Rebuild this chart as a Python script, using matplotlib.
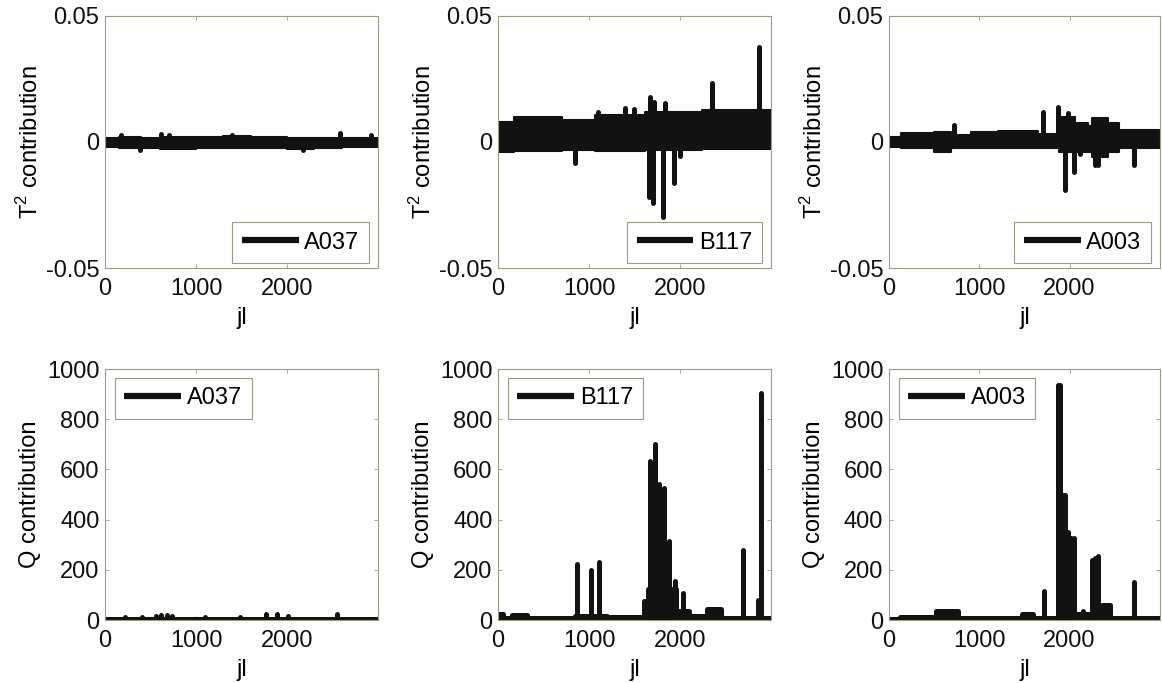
import matplotlib

matplotlib.use("Agg")
import matplotlib.pyplot as plt
import numpy as np

plt.rcParams["font.family"] = ["Liberation Sans", "DejaVu Sans"]
plt.rcParams["mathtext.fontset"] = "custom"
plt.rcParams["mathtext.rm"] = "Liberation Sans"

FONT_SIZE = 17
LINE_COLOR = "#121212"
FRAME_COLOR = "#9c9c84"

# ---- T^2 contribution, A037 (band envelope per segment + spikes) ----
T2_A037_SEG_X = [0, 150, 400, 600, 1000, 1300, 1600, 2000, 2300, 2600, 3000]
T2_A037_HI = [0.0014, 0.0020, 0.0016, 0.0020, 0.0018, 0.0022, 0.0018, 0.0016, 0.0014, 0.0017]
T2_A037_LO = [-0.0020, -0.0024, -0.0022, -0.0026, -0.0022, -0.0024, -0.0022, -0.0026, -0.0022, -0.0020]
T2_A037_SPIKE_X = [180, 380, 620, 700, 1400, 2180, 2580, 2920]
T2_A037_SPIKE_V = [0.0028, -0.0030, 0.0030, 0.0028, 0.0027, -0.0030, 0.0035, 0.0027]

# ---- T^2 contribution, B117 ----
T2_B117_SEG_X = [0, 180, 700, 1060, 1610, 2240, 3000]
T2_B117_HI = [0.0078, 0.0098, 0.0088, 0.0108, 0.0118, 0.0125]
T2_B117_LO = [-0.0038, -0.0036, -0.0033, -0.0036, -0.0030, -0.0026]
T2_B117_SPIKE_X = [849, 1102, 1397, 1493, 1654, 1665, 1702, 1712, 1812, 1830, 1929, 1995, 2352, 2870]
T2_B117_SPIKE_V = [-0.0085, 0.0120, 0.0134, 0.0130, -0.0217, 0.0180, -0.0243, 0.0160,
                   -0.0296, 0.0153, -0.0161, -0.0055, 0.0233, 0.0378]

# ---- T^2 contribution, A003 ----
T2_A003_SEG_X = [0, 130, 500, 690, 910, 1210, 1650, 1880, 2060, 2200, 2250, 2420, 2550, 3000]
T2_A003_HI = [0.0021, 0.0037, 0.0040, 0.0026, 0.0040, 0.0045, 0.0030, 0.0098, 0.0074,
              0.0064, 0.0097, 0.0074, 0.0048]
T2_A003_LO = [-0.0021, -0.0025, -0.0038, -0.0025, -0.0025, -0.0025, -0.0025, -0.0040, -0.0040,
              -0.0040, -0.0060, -0.0040, -0.0025]
T2_A003_SPIKE_X = [725, 1710, 1877, 1951, 1988, 2044, 2110, 2280, 2320, 2713]
T2_A003_SPIKE_V = [0.0067, 0.0120, 0.0138, -0.0190, 0.0116, -0.0118, -0.0046, -0.0090, -0.0090, -0.0090]

# ---- Q contribution, A037 (baseline per segment + spikes) ----
Q_A037_SEG_X = [0, 3000]
Q_A037_BASE = [4]
Q_A037_SPIKE_X = [220, 403, 560, 620, 680, 740, 1099, 1484, 1766, 1886, 2015, 2546]
Q_A037_SPIKE_V = [12, 12, 18, 20, 20, 16, 11, 11, 24, 24, 18, 24]

# ---- Q contribution, B117 ----
Q_B117_SEG_X = [0, 60, 150, 320, 850, 1200, 1600, 1650, 1960, 2100, 2300, 2450, 3000]
Q_B117_BASE = [25, 8, 22, 8, 15, 12, 75, 125, 35, 15, 45, 8]
Q_B117_SPIKE_X = [869, 1022, 1113, 1672, 1727, 1771, 1825, 1880, 1942, 2037, 2690, 2855, 2884]
Q_B117_SPIKE_V = [225, 198, 232, 634, 700, 540, 525, 314, 154, 107, 280, 78, 905]

# ---- Q contribution, A003 ----
Q_A003_SEG_X = [0, 120, 520, 760, 1470, 1600, 2080, 2360, 2450, 3000]
Q_A003_BASE = [3, 13, 35, 7, 25, 7, 25, 60, 7]
Q_A003_SPIKE_X = [1720, 1870, 1895, 1930, 1950, 1985, 2020, 2045, 2150, 2248, 2285, 2320, 2713]
Q_A003_SPIKE_V = [117, 935, 935, 498, 498, 352, 325, 325, 36, 240, 247, 257, 153]

JL_MAX = 3000

COLUMNS = [0.0904, 0.4286, 0.765]
WIDTHS = [0.235, 0.235, 0.2332]
ROW_TOP = (0.6076, 0.369)
ROW_BOTTOM = (0.0922, 0.3675)


def format_ax(ax):
    for spine in ax.spines.values():
        spine.set_color(FRAME_COLOR)
        spine.set_lw(0.8)
    ax.tick_params(
        axis="both", which="both", direction="in", length=3, width=0.6,
        color=FRAME_COLOR, labelcolor="#111111", labelsize=FONT_SIZE,
        top=True, right=True, pad=4,
    )
    ax.tick_params(axis="x", pad=7)
    ax.set_xlim(0, JL_MAX)
    ax.set_xticks([0, 1000, 2000])
    ax.set_xlabel("jl", fontsize=FONT_SIZE, labelpad=5)


def plot_band(ax, seg_x, hi, lo, edge_lw):
    x = np.asarray(seg_x, dtype=float)
    hi = np.append(hi, hi[-1])
    lo = np.append(lo, lo[-1])
    ax.fill_between(x, lo, hi, step="post", fc=LINE_COLOR, ec="none", zorder=2)
    ax.step(x, hi, where="post", color=LINE_COLOR, lw=edge_lw, zorder=2)
    ax.step(x, lo, where="post", color=LINE_COLOR, lw=edge_lw, zorder=2)


def plot_spikes(ax, xs, vs):
    ax.vlines(xs, 0, vs, colors=LINE_COLOR, lw=3.6, capstyle="round", zorder=3)


def add_legend(ax, name, top_row):
    handle = plt.Line2D([], [], color=LINE_COLOR, lw=4.5, solid_capstyle="butt")
    if top_row:
        kw = dict(loc="lower right", bbox_to_anchor=(1 - 9 / 273, 5 / 252))
    else:
        kw = dict(loc="upper left", bbox_to_anchor=(10 / 273, 1 - 9 / 251))
    leg = ax.legend(
        [handle], [name], fontsize=FONT_SIZE, fancybox=False, framealpha=1,
        edgecolor=FRAME_COLOR, borderaxespad=0, handlelength=2.4,
        handletextpad=0.25, borderpad=0.4, **kw,
    )
    leg.get_frame().set_linewidth(0.8)


def plot_t2(ax, name, seg_x, hi, lo, spike_x, spike_v):
    format_ax(ax)
    plot_band(ax, seg_x, hi, lo, edge_lw=1.5)
    plot_spikes(ax, spike_x, spike_v)
    ax.set_ylim(-0.05, 0.05)
    ax.set_yticks([-0.05, 0, 0.05])
    ax.set_yticklabels(["-0.05", "0", "0.05"])
    ax.set_ylabel("T$^2$ contribution", fontsize=FONT_SIZE, labelpad=2)
    add_legend(ax, name, top_row=True)


def plot_q(ax, name, seg_x, base, spike_x, spike_v):
    format_ax(ax)
    plot_band(ax, seg_x, base, [0] * len(base), edge_lw=3.6)
    plot_spikes(ax, spike_x, spike_v)
    ax.set_ylim(0, 1000)
    ax.set_yticks(range(0, 1001, 200))
    ax.set_ylabel("Q contribution", fontsize=FONT_SIZE, labelpad=4)
    add_legend(ax, name, top_row=False)


def main():
    fig = plt.figure(figsize=(11.62, 6.83), dpi=100)

    top = [fig.add_axes([l, ROW_TOP[0], w, ROW_TOP[1]]) for l, w in zip(COLUMNS, WIDTHS)]
    bot = [fig.add_axes([l, ROW_BOTTOM[0], w, ROW_BOTTOM[1]]) for l, w in zip(COLUMNS, WIDTHS)]

    plot_t2(top[0], "A037", T2_A037_SEG_X, T2_A037_HI, T2_A037_LO, T2_A037_SPIKE_X, T2_A037_SPIKE_V)
    plot_t2(top[1], "B117", T2_B117_SEG_X, T2_B117_HI, T2_B117_LO, T2_B117_SPIKE_X, T2_B117_SPIKE_V)
    plot_t2(top[2], "A003", T2_A003_SEG_X, T2_A003_HI, T2_A003_LO, T2_A003_SPIKE_X, T2_A003_SPIKE_V)

    plot_q(bot[0], "A037", Q_A037_SEG_X, Q_A037_BASE, Q_A037_SPIKE_X, Q_A037_SPIKE_V)
    plot_q(bot[1], "B117", Q_B117_SEG_X, Q_B117_BASE, Q_B117_SPIKE_X, Q_B117_SPIKE_V)
    plot_q(bot[2], "A003", Q_A003_SEG_X, Q_A003_BASE, Q_A003_SPIKE_X, Q_A003_SPIKE_V)

    fig.savefig("out.png", dpi=100, facecolor="white")


if __name__ == "__main__":
    main()
